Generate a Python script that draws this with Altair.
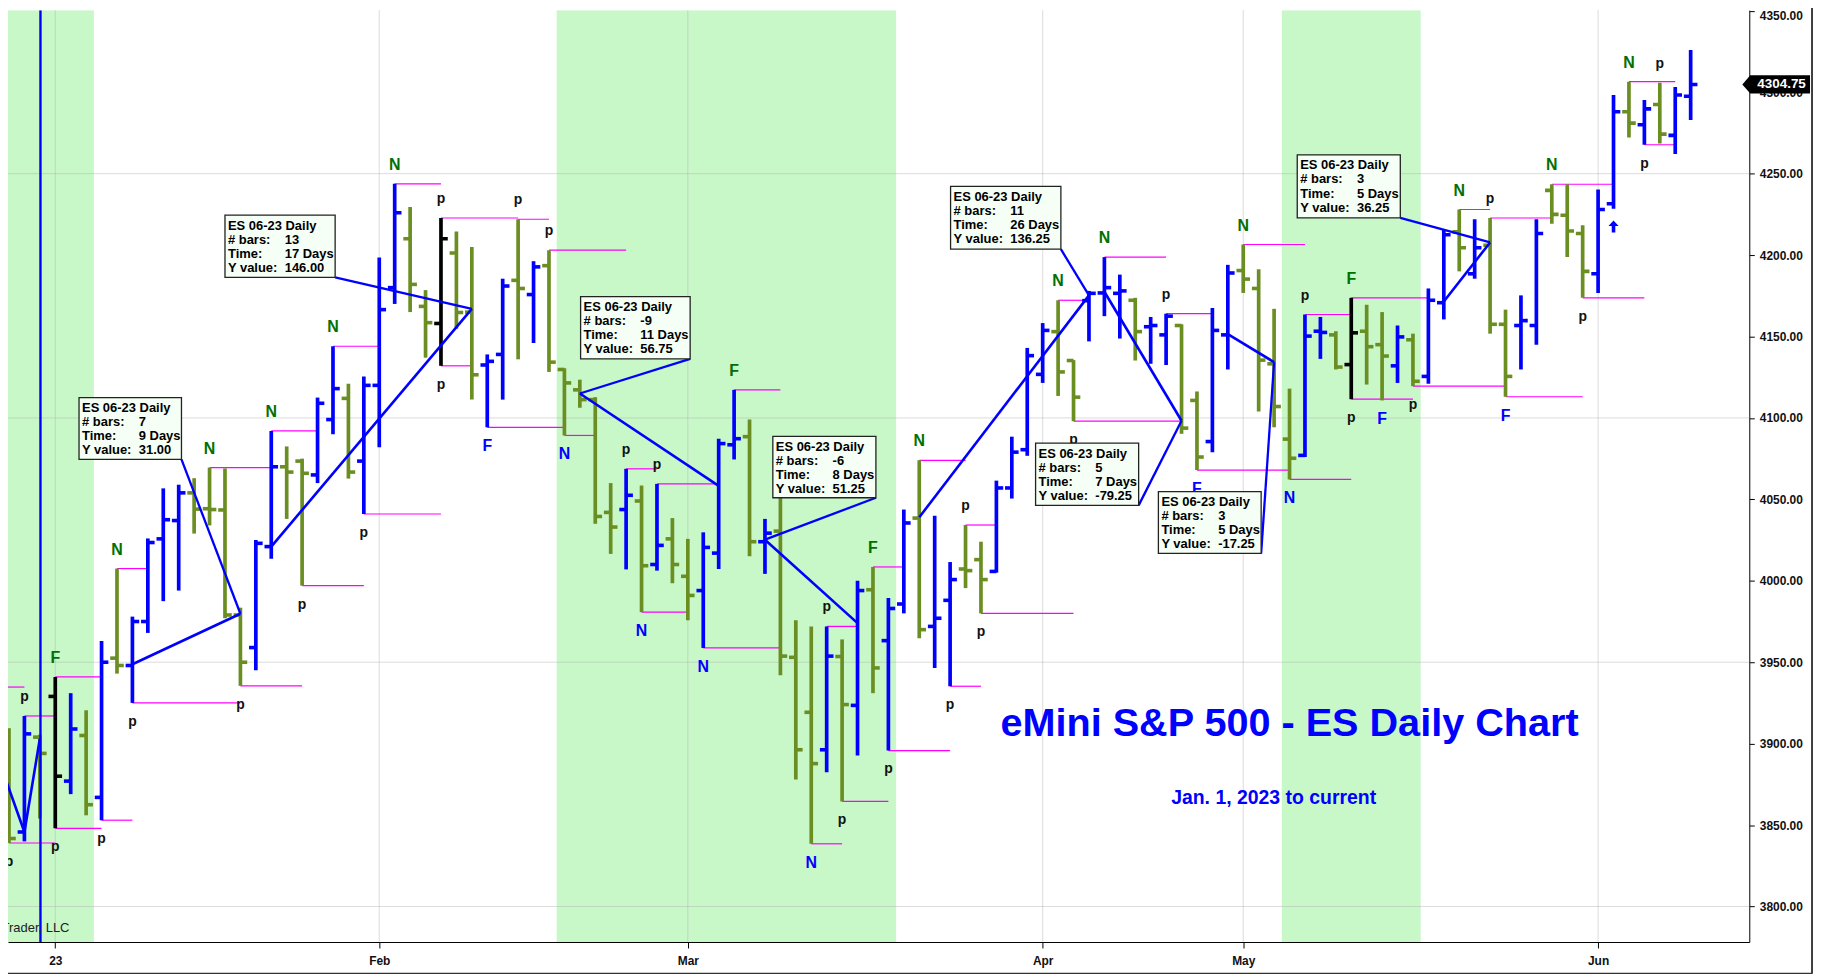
import altair as alt
import pandas as pd

# ---------------- OHLC values (bar 0 = 28 Dec 2022, one bar per session) ----------------
bar_open = [3872.0, 3845.75, 3904.0, 3929.0, 3877.0, 3905.0, 3867.0, 3952.5, 3948.0, 3975.0,
            4025.75, 4037.0, 4054.0, 4044.25, 4043.5, 3979.0, 3959.0, 4021.0, 4070.0, 4073.5,
            4065.0, 4099.0, 4112.0, 4073.5, 4120.0, 4180.0, 4210.0, 4168.5, 4158.0, 4201.25,
            4165.0, 4132.5, 4139.0, 4184.5, 4175.75, 4193.5, 4129.75, 4117.25, 4111.25, 4042.0,
            4043.75, 4049.0, 4010.0, 4025.75, 4002.75, 3994.0, 4017.0, 4083.5, 4088.5, 4024.0,
            4030.5, 3953.0, 3919.25, 3896.25, 3953.5, 3923.5, 3994.5, 3963.25, 3985.75, 4038.5,
            3972.0, 3988.0, 4007.25, 4013.0, 4005.75, 4057.0, 4080.5, 4126.75, 4153.0, 4135.25,
            4172.0, 4176.75, 4176.5, 4172.25, 4156.0, 4151.0, 4156.75, 4110.75, 4085.5, 4151.0,
            4190.5, 4179.5, 4133.25, 4087.0, 4077.0, 4153.25, 4151.0, 4132.75, 4153.25, 4145.0,
            4132.0, 4148.0, 4125.5, 4170.75, 4214.25, 4188.5, 4206.0, 4157.5, 4156.75, 4156.75,
            4239.75, 4224.5, 4213.25, 4188.5, 4231.5, 4288.0, 4280.0, 4292.5, 4273.5, 4297.5]
bar_high = [3909.5, 3917.0, 3905.5, 3941.0, 3931.0, 3920.5, 3963.0, 4007.5, 3978.0, 4026.0,
            4056.75, 4059.0, 4063.0, 4069.5, 4069.0, 3983.5, 4025.0, 4092.0, 4082.5, 4075.0,
            4112.5, 4144.0, 4121.0, 4125.5, 4198.5, 4243.75, 4229.5, 4178.5, 4222.75, 4214.5,
            4205.0, 4139.0, 4185.5, 4222.0, 4196.25, 4203.0, 4130.5, 4123.5, 4112.75, 4060.0,
            4068.75, 4058.5, 4059.5, 4038.5, 4025.75, 4029.75, 4087.25, 4117.25, 4099.0, 4038.0,
            4051.25, 3975.75, 3972.0, 3972.0, 3964.0, 4000.0, 4008.5, 3989.5, 4043.75, 4074.0,
            4040.0, 4011.5, 4034.25, 4024.0, 4061.5, 4088.5, 4143.0, 4158.25, 4172.25, 4135.5,
            4178.0, 4198.75, 4188.0, 4173.75, 4162.0, 4164.0, 4157.5, 4116.25, 4167.5, 4194.0,
            4206.5, 4191.25, 4167.0, 4118.0, 4163.5, 4162.0, 4153.25, 4173.75, 4169.5, 4165.0,
            4156.75, 4151.75, 4179.5, 4215.5, 4228.0, 4222.0, 4222.75, 4166.5, 4175.25, 4222.0,
            4243.5, 4243.5, 4218.25, 4240.25, 4298.25, 4306.5, 4295.25, 4305.75, 4303.25, 4326.0]
bar_low = [3839.0, 3840.0, 3854.0, 3848.0, 3869.0, 3856.0, 3853.0, 3943.0, 3925.0, 3968.0,
           3987.5, 3994.0, 4029.0, 4034.0, 3977.0, 3935.5, 3945.0, 4013.5, 4038.0, 3997.0,
           4060.0, 4090.0, 4062.75, 4041.0, 4082.0, 4170.0, 4165.0, 4137.0, 4132.0, 4154.75,
           4111.25, 4094.25, 4111.25, 4136.0, 4146.0, 4128.25, 4089.25, 4106.25, 4035.0, 4016.5,
           4007.0, 3980.75, 4006.25, 3998.5, 3975.75, 3958.75, 4007.25, 4074.5, 4015.0, 4004.25,
           3942.0, 3878.0, 3838.5, 3882.5, 3864.5, 3892.75, 3931.0, 3895.75, 3980.0, 3964.75,
           3946.5, 3935.25, 3995.5, 3980.0, 4005.0, 4050.5, 4076.75, 4121.5, 4113.5, 4098.0,
           4147.0, 4162.5, 4148.75, 4135.25, 4133.25, 4132.5, 4090.25, 4068.0, 4079.0, 4129.75,
           4176.75, 4104.0, 4094.25, 4062.25, 4076.0, 4136.25, 4129.75, 4111.5, 4120.5, 4110.75,
           4121.5, 4119.5, 4121.0, 4160.5, 4190.0, 4185.5, 4151.75, 4113.0, 4129.75, 4145.0,
           4219.25, 4198.75, 4173.75, 4176.75, 4228.5, 4272.25, 4267.75, 4268.5, 4262.0, 4283.0]
bar_close = [3841.75, 3906.0, 3894.0, 3880.0, 3909.0, 3862.5, 3950.0, 3948.0, 3975.0, 4023.5,
             4037.5, 4054.0, 4044.0, 4043.75, 3979.0, 3950.0, 4023.0, 4070.0, 4066.75, 4066.0,
             4109.0, 4118.0, 4066.75, 4120.0, 4166.5, 4226.0, 4182.0, 4158.5, 4210.0, 4164.75,
             4126.5, 4134.75, 4181.0, 4179.5, 4192.75, 4134.25, 4121.5, 4111.25, 4039.5, 4033.0,
             4052.5, 4009.25, 4021.75, 4010.0, 3991.0, 4020.5, 4084.25, 4087.25, 4024.0, 4029.25,
             3953.75, 3896.25, 3887.75, 3953.75, 3924.0, 3994.0, 3946.5, 3983.0, 4035.5, 3970.0,
             3977.0, 4000.75, 4006.25, 4000.75, 4057.0, 4079.0, 4138.25, 4153.75, 4128.25, 4112.75,
             4176.5, 4180.0, 4178.0, 4153.0, 4156.75, 4162.5, 4093.75, 4076.0, 4153.75, 4189.0,
             4185.25, 4135.5, 4107.0, 4075.25, 4150.25, 4152.5, 4131.25, 4152.25, 4143.75, 4138.0,
             4149.75, 4122.5, 4172.25, 4212.5, 4204.5, 4204.5, 4157.5, 4125.5, 4159.75, 4213.25,
             4225.0, 4214.75, 4190.0, 4228.0, 4288.0, 4281.0, 4289.75, 4274.25, 4298.25, 4304.75]
# u = up bar, d = down bar, k = outside bar
bar_class = ("d u d k u d u d u u  u u d d d d u u d d  u u d u u u d d k d  d u u d u d d d d d  "
             "u d u d d u u u d u  d d d u d u d u u d  u u d d u u u u d d  u u u d u u d d u u  "
             "d d d d u u d k d d  u d u u d u d d u u  d d d u u d u d u u").split()

# x-axis month marks (bar index of first session of the month)
tick_idx = [3, 24, 44, 67, 80, 103]
tick_lab = ["23", "Feb", "Mar", "Apr", "May", "Jun"]
price_ticks = list(range(3800, 4351, 50))
price_grid = [3800, 3950, 4100, 4250]

# shaded time windows (bar index range)
band_start = [-1.0, 35.5, 82.5]
band_end = [5.5, 57.5, 91.5]
year_sep = [2.04]

# pivot level lines: start bar, end bar, price
mg_start = [-1, 1, 0, 3, 3, 6, 7, 8, 13, 15, 17, 19, 21, 23, 25, 28, 33, 35, 28, 31, 36, 40, 42, 41, 45, 47,
            53, 52, 54, 56, 57, 59, 61, 62, 63, 68, 69, 71, 75, 77, 80, 83, 84, 87, 87, 91, 94, 96, 97, 100,
            102, 105, 106]
mg_end = [1, 3, 3, 6, 6, 8, 9, 15, 17, 19, 20, 23, 24, 28, 28, 33, 35, 40, 30, 36, 38, 42, 46, 44, 50, 50,
          55, 54, 57, 58, 61, 62, 63, 64, 69, 70, 76, 75, 78, 83, 84, 87, 87, 92, 91, 97, 96, 100, 102, 104,
          106, 108, 108]
mg_price = [3934.75, 3917.0, 3839.0, 3941.0, 3848.0, 3853.0, 4007.5, 3925.0, 4069.5, 3935.5, 4092.0, 3997.0,
            4144.0, 4041.0, 4243.75, 4222.75, 4222.0, 4203.0, 4132.0, 4094.25, 4089.25, 4068.75, 4059.5,
            3980.75, 3958.75, 4117.25, 3972.0, 3838.5, 3864.5, 4008.5, 3895.75, 4074.0, 3935.25, 4034.25,
            3980.0, 4172.25, 4098.0, 4198.75, 4164.0, 4068.0, 4206.5, 4062.25, 4163.5, 4173.75, 4111.5,
            4119.5, 4228.0, 4222.75, 4113.0, 4243.5, 4173.75, 4306.5, 4267.75]

# pivot letters
lab_above_idx = [1, 3, 7, 13, 17, 21, 25, 28, 33, 35, 40, 42, 47, 53, 56, 59, 62, 68, 71, 75, 80, 84, 87,
                 94, 96, 100, 105, 107]
lab_above_txt = "p F N N N N N p p p p p F p F N p N N p N p F N p N N p".split()
lab_below_idx = [0, 3, 6, 8, 15, 19, 23, 28, 31, 36, 41, 45, 52, 54, 57, 61, 63, 69, 77, 83, 87, 89, 91,
                 97, 102, 106]
lab_below_txt = "p p p p p p p p F N N N N p p p p p F N p F p F p p".split()
arrow_idx = [104]

# swing measurement lines (segment id, bar index, price)
zz_seg = [0, 0, 0, 1, 1, 2, 2, 3, 3, 4, 4, 5, 5, 6, 6, 7, 7, 8, 8]
zz_idx = [-1, 1, 2, 8, 15, 17, 30, 37, 46, 49, 55, 59, 70, 71, 76, 79, 82, 93, 96]
zz_price = [3899.0, 3845.75, 3903.0, 3948.75, 3979.75, 4021.0, 4167.0, 4115.0, 4058.25, 4025.25, 3974.0,
            4039.0, 4175.25, 4177.5, 4098.25, 4151.5, 4134.25, 4171.5, 4207.75]

# measurement call-outs
box_symbol = "ES 06-23 Daily"
box_bars = ["7", "13", "-9", "-6", "11", "5", "3", "3"]
box_days = ["9 Days", "17 Days", "11 Days", "8 Days", "26 Days", "7 Days", "5 Days", "5 Days"]
box_yval = ["31.00", "146.00", "56.75", "51.25", "136.25", "-79.25", "-17.25", "36.25"]
box_left = [4.54, 14.0, 37.05, 49.51, 61.03, 66.54, 74.50, 83.50]
box_right = [11.18, 21.14, 44.15, 56.19, 68.18, 73.22, 81.16, 90.18]
box_top = [4112.5, 4224.5, 4174.5, 4088.7, 4242.2, 4084.5, 4054.8, 4261.5]
box_bottom = [4074.5, 4186.3, 4136.3, 4051.0, 4203.6, 4046.3, 4016.8, 4222.8]
leader_tx = [15, 30, 37, 49, 70, 76, 82, 96]
leader_ty = [3979.75, 4167.0, 4115.0, 4025.25, 4175.25, 4098.25, 4134.25, 4207.75]

title_text = ["eMini S&P 500 - ES Daily Chart"]
title_x, title_y = [83.0], [3904.9]
sub_text = ["Jan. 1, 2023 to current"]
sub_x, sub_y = [81.97], [3863.1]
wm_text = ["Trader, LLC"]
wm_x, wm_y = [3.92], [3784.3]

# ---------------- chart ----------------
W, H = 1749, 936
xs = alt.Scale(domain=[-0.064, 112.8], nice=False, zero=False)
ys = alt.Scale(domain=[3778.2, 4350.4], nice=False, zero=False)
FONT = "Liberation Sans"
BLUE, OLIVE, DKGREEN, MAGENTA = "#0000FF", "#6B8E23", "#007000", "#FF00FF"

expr = " : ".join(f"datum.value == {v} ? '{t}'" for v, t in zip(tick_idx, tick_lab)) + " : ''"
x_axis = alt.Axis(values=tick_idx, labelExpr=expr, title=None, grid=False, domainColor="black",
                  tickColor="black", tickSize=6, labelPadding=8, labelFontSize=12, labelFontWeight="bold",
                  labelFont=FONT, labelColor="#111111", labelAngle=0, labelFlush=False)
y_axis = alt.Axis(orient="right", values=price_ticks, format=".2f", title=None, grid=False,
                  domainColor="black", tickColor="black", tickSize=5, labelPadding=5, labelFontSize=12,
                  labelFontWeight="bold", labelFont=FONT, labelColor="#111111", labelFlush=2,
                  labelOverlap=False)


# every layer carries the same axis definition so the shared axes merge cleanly
def X(f):
    return alt.X(f, scale=xs, axis=x_axis)


def Y(f):
    return alt.Y(f, scale=ys, axis=y_axis)


n = len(bar_open)
bars = pd.DataFrame({"i": list(range(n)), "o": bar_open, "h": bar_high, "l": bar_low,
                     "c": bar_close, "k": bar_class})
bars["ox"] = bars["i"] - 0.44
bars["cx"] = bars["i"] + 0.44
colour = alt.Color("k:N", scale=alt.Scale(domain=["u", "d", "k"], range=[BLUE, OLIVE, "#000000"]),
                   legend=None)

bands = alt.Chart(pd.DataFrame({"a": band_start, "b": band_end})).mark_rect(
    color="#C8F7C8", clip=True).encode(x=X("a:Q"), x2="b:Q", y=alt.value(0), y2=alt.value(H))
vgrid = alt.Chart(pd.DataFrame({"g": tick_idx})).mark_rule(color="#B0B0B0", opacity=0.45).encode(
    x=X("g:Q"), y=alt.value(0), y2=alt.value(H))
hgrid = alt.Chart(pd.DataFrame({"g": price_grid})).mark_rule(color="#B0B0B0", opacity=0.45).encode(
    y=Y("g:Q"), x=alt.value(0), x2=alt.value(W))
magenta = alt.Chart(pd.DataFrame({"s": mg_start, "e": mg_end, "p": mg_price})).mark_rule(
    color=MAGENTA, strokeWidth=1.2, clip=True).encode(x=X("s:Q"), x2="e:Q", y=Y("p:Q"))

base = alt.Chart(bars)
hl = base.mark_rule(strokeWidth=3.7, clip=True).encode(x=X("i:Q"), y=Y("l:Q"), y2="h:Q", color=colour)
open_t = base.mark_rule(strokeWidth=3.6, clip=True).encode(x=X("ox:Q"), x2="i:Q", y=Y("o:Q"), color=colour)
close_t = base.mark_rule(strokeWidth=3.6, clip=True).encode(x=X("i:Q"), x2="cx:Q", y=Y("c:Q"), color=colour)

sep = alt.Chart(pd.DataFrame({"x": year_sep})).mark_rule(color=BLUE, strokeWidth=2.4, clip=True).encode(
    x=X("x:Q"), y=alt.value(0), y2=alt.value(H))

zz = pd.DataFrame({"s": zz_seg, "x": zz_idx, "y": zz_price, "n": list(range(len(zz_seg)))})
zigzag = alt.Chart(zz).mark_line(color=BLUE, strokeWidth=2.6, clip=True).encode(
    x=X("x:Q"), y=Y("y:Q"), detail="s:N", order="n:Q")

lead_rows = []
for j in range(len(box_left)):
    lead_rows.append({"s": j, "x": box_right[j], "y": box_bottom[j], "n": 0})
    lead_rows.append({"s": j, "x": leader_tx[j], "y": leader_ty[j], "n": 1})
leaders = alt.Chart(pd.DataFrame(lead_rows)).mark_line(color=BLUE, strokeWidth=2.3, clip=True).encode(
    x=X("x:Q"), y=Y("y:Q"), detail="s:N", order="n:Q")


def lab_df(idx, txt, above):
    rows = []
    for i, t in zip(idx, txt):
        if t == "p":
            col, fs = "#111111", 14
        else:
            col, fs = (DKGREEN if above else BLUE), 16
        rows.append({"x": i, "y": bar_high[i] if above else bar_low[i], "t": t, "col": col, "fs": fs})
    return pd.DataFrame(rows)


def lab_layer(df, dy):
    return alt.Chart(df).mark_text(dy=dy, font=FONT, fontWeight="bold", baseline="middle",
                                   align="center").encode(
        x=X("x:Q"), y=Y("y:Q"), text="t:N", color=alt.Color("col:N", scale=None),
        size=alt.Size("fs:Q", scale=None))


lab_up = lab_layer(lab_df(lab_above_idx, lab_above_txt, True), -19)
lab_dn = lab_layer(lab_df(lab_below_idx, lab_below_txt, False), 19)

ARROW = "M 0 -1 L 0.85 -0.1 L 0.3 -0.1 L 0.3 1 L -0.3 1 L -0.3 -0.1 L -0.85 -0.1 Z"
arrow = alt.Chart(pd.DataFrame({"x": arrow_idx, "y": [bar_low[i] for i in arrow_idx]})).mark_point(
    shape=ARROW, size=144, filled=True, color=BLUE, opacity=1, strokeWidth=0, yOffset=18).encode(
    x=X("x:Q"), y=Y("y:Q"))

boxes = pd.DataFrame({
    "l": box_left, "r": box_right, "t": box_top, "b": box_bottom,
    "head": [box_symbol + "\n# bars:\nTime:\nY value:"] * len(box_left),
    "vals": [f"{a}\n{b}\n{c}" for a, b, c in zip(box_bars, box_days, box_yval)],
})
box_rect = alt.Chart(boxes).mark_rect(fill="#F5FFF5", stroke="#222222", strokeWidth=1.3).encode(
    x=X("l:Q"), x2="r:Q", y=Y("t:Q"), y2="b:Q")
box_head = alt.Chart(boxes).mark_text(align="left", baseline="alphabetic", dx=3, dy=14.5, lineBreak="\n",
                                      lineHeight=14.2, font=FONT, fontSize=13, fontWeight="bold",
                                      color="black").encode(
    x=X("l:Q"), y=Y("t:Q"), text="head:N")
box_vals = alt.Chart(boxes).mark_text(align="left", baseline="alphabetic", dx=60, dy=28.7, lineBreak="\n",
                                      lineHeight=14.2, font=FONT, fontSize=13, fontWeight="bold",
                                      color="black").encode(
    x=X("l:Q"), y=Y("t:Q"), text="vals:N")

title = alt.Chart(pd.DataFrame({"x": title_x, "y": title_y, "t": title_text})).mark_text(
    font=FONT, fontSize=39.8, fontWeight="bold", color=BLUE, align="center", baseline="alphabetic").encode(
    x=X("x:Q"), y=Y("y:Q"), text="t:N")
subtitle = alt.Chart(pd.DataFrame({"x": sub_x, "y": sub_y, "t": sub_text})).mark_text(
    font=FONT, fontSize=19.5, fontWeight="bold", color=BLUE, align="center", baseline="alphabetic").encode(
    x=X("x:Q"), y=Y("y:Q"), text="t:N")
wm = alt.Chart(pd.DataFrame({"x": wm_x, "y": wm_y, "t": wm_text})).mark_text(
    font=FONT, fontSize=13, color="#222222", align="right", baseline="alphabetic").encode(
    x=X("x:Q"), y=Y("y:Q"), text="t:N")

last = pd.DataFrame({"y": [bar_close[-1]], "t": [f"{bar_close[-1]:.2f}"]})
TAG = "M -1 0 L -0.765 -0.27 L 1 -0.27 L 1 0.27 L -0.765 0.27 Z"
tag = alt.Chart(last).mark_point(shape=TAG, size=68 * 68, filled=True, color="black", opacity=1,
                                 strokeWidth=0).encode(x=alt.value(1776), y=Y("y:Q"))
tag_text = alt.Chart(last).mark_text(align="left", baseline="middle", font=FONT, fontSize=13.5,
                                     fontWeight="bold", color="white").encode(
    x=alt.value(1757), y=Y("y:Q"), text="t:N")

frame_r = alt.Chart(pd.DataFrame({"k": [0]})).mark_rule(color="black", strokeWidth=1.5).encode(
    x=alt.value(1812), y=alt.value(-8), y2=alt.value(968))
frame_b = alt.Chart(pd.DataFrame({"k": [0]})).mark_rule(color="#333333", strokeWidth=1.5).encode(
    x=alt.value(-8), x2=alt.value(1812), y=alt.value(967.5))

chart = alt.layer(
    bands, vgrid, hgrid, magenta, hl, open_t, close_t, sep, zigzag, leaders,
    lab_up, lab_dn, arrow, box_rect, box_head, box_vals, title, subtitle, wm,
    tag, tag_text, frame_r, frame_b,
).properties(
    width=W, height=H, autosize="none",
    padding={"left": 0, "top": 0, "right": 66, "bottom": 34}, background="white",
).configure_view(strokeWidth=0)

chart.save("out.html", embed_options={"renderer": "svg", "actions": False})
